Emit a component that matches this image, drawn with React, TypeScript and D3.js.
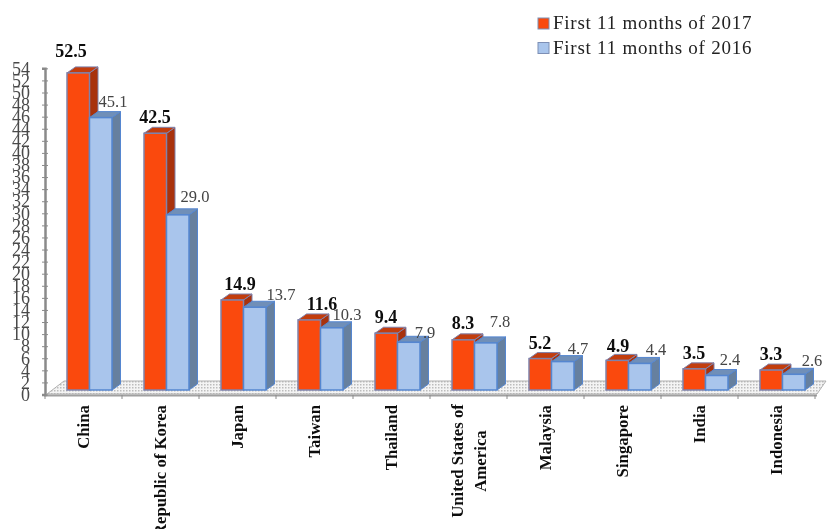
import { useEffect, useRef } from 'react';
import * as d3 from 'd3';

const categories = [
  'China',
  'Republic of Korea',
  'Japan',
  'Taiwan',
  'Thailand',
  'United States of America',
  'Malaysia',
  'Singapore',
  'India',
  'Indonesia',
];
const values2017 = [52.5, 42.5, 14.9, 11.6, 9.4, 8.3, 5.2, 4.9, 3.5, 3.3];
const values2016 = [45.1, 29.0, 13.7, 10.3, 7.9, 7.8, 4.7, 4.4, 2.4, 2.6];
const seriesNames = ['First 11 months of 2017', 'First 11 months of 2016'];
const yTicks = d3.range(0, 55, 2);

const WIDTH = 827;
const HEIGHT = 529;
const SERIF = '"Liberation Serif", serif';

export default function App() {
  const ref = useRef<SVGSVGElement>(null);

  useEffect(() => {
    if (!ref.current) return;
    const svg = d3.select(ref.current);
    svg.selectAll('*').remove();

    const defs = svg.append('defs');
    defs
      .append('filter')
      .attr('id', 'soft')
      .append('feGaussianBlur')
      .attr('stdDeviation', 0.45);
    const dots = defs
      .append('pattern')
      .attr('id', 'floorDots')
      .attr('width', 3)
      .attr('height', 3)
      .attr('patternUnits', 'userSpaceOnUse');
    dots.append('rect').attr('width', 3).attr('height', 3).attr('fill', '#f4f4f4');
    dots.append('rect').attr('width', 1.5).attr('height', 1.5).attr('fill', '#bcbcbc');

    const root = svg.append('g').attr('filter', 'url(#soft)');

    const depthX = 8.5;
    const depthY = 6;
    const baseY = 390;
    const pxPerUnit = 6.04;

    const x = d3.scaleBand<string>().domain(categories).range([56, 826]);
    const xSeries = d3.scaleBand<string>().domain(seriesNames).range([11, 56]);
    const y = d3
      .scaleLinear()
      .domain([0, 54])
      .range([baseY, baseY - 54 * pxPerUnit]);

    // floor
    const floor = d3.line();
    root
      .append('path')
      .attr(
        'd',
        floor([
          [47, 394],
          [64, 381],
          [826, 381],
          [817, 394],
        ]) + 'Z',
      )
      .attr('fill', 'url(#floorDots)')
      .attr('stroke', '#b0b0b0')
      .attr('stroke-width', 1);
    root
      .append('line')
      .attr('x1', 44)
      .attr('x2', 817)
      .attr('y1', 395.5)
      .attr('y2', 395.5)
      .attr('stroke', '#a0a0a0')
      .attr('stroke-width', 2);

    // y axis sits in front of the bars' base, so it gets its own offset
    const yAxis = root
      .append('g')
      .attr('transform', 'translate(45,4.5)')
      .call(
        d3
          .axisLeft(y)
          .tickValues(yTicks)
          .tickSize(3)
          .tickPadding(12)
          .tickFormat(d3.format('d')),
      );
    yAxis.select('.domain').attr('stroke', '#8a8a8a').attr('stroke-width', 2.5);
    yAxis.selectAll('line').attr('x1', 3).attr('x2', -3).attr('stroke', '#8a8a8a');
    yAxis
      .selectAll('text')
      .attr('font-family', SERIF)
      .attr('font-size', 18)
      .attr('fill', '#4a4a4a');

    // x ticks between the categories
    root
      .append('g')
      .selectAll('line')
      .data(d3.range(categories.length + 1))
      .join('line')
      .attr('x1', (i) => x.range()[0] - 11 + i * x.step())
      .attr('x2', (i) => x.range()[0] - 11 + i * x.step())
      .attr('y1', 395)
      .attr('y2', 399)
      .attr('stroke', '#8a8a8a');

    const barGroups = [
      {
        name: seriesNames[0],
        values: values2017,
        front: '#fa4a08',
        top: '#c23c10',
        side: '#a8320c',
        edge: '#7f82ac',
      },
      {
        name: seriesNames[1],
        values: values2016,
        front: '#a9c5ec',
        top: '#6f8fb8',
        side: '#66809f',
        edge: '#5586d0',
      },
    ];

    barGroups.forEach((s) => {
      const w = xSeries.bandwidth();
      const g = root
        .append('g')
        .selectAll('g')
        .data(categories)
        .join('g')
        .attr('transform', (d) => `translate(${x(d)! + xSeries(s.name)!},0)`);

      g.append('path')
        .attr('d', (_, i) => {
          const t = y(s.values[i]);
          return `M${w},${t}L${w + depthX},${t - depthY}L${w + depthX},${baseY - depthY}L${w},${baseY}Z`;
        })
        .attr('fill', s.side)
        .attr('stroke', s.edge)
        .attr('stroke-width', 1);
      g.append('path')
        .attr('d', (_, i) => {
          const t = y(s.values[i]);
          return `M0,${t}L${depthX},${t - depthY}L${w + depthX},${t - depthY}L${w},${t}Z`;
        })
        .attr('fill', s.top)
        .attr('stroke', s.edge)
        .attr('stroke-width', 1);
      g.append('rect')
        .attr('x', 0)
        .attr('width', w)
        .attr('y', (_, i) => y(s.values[i]))
        .attr('height', (_, i) => baseY - y(s.values[i]))
        .attr('fill', s.front)
        .attr('stroke', s.edge)
        .attr('stroke-width', 1.5);
    });

    // hand-placed labels in the source, so these are nudges off the bar top
    const redDx = [15, 22, 30, 35, 22, 22, 22, 23, 22, 22];
    const redDy = [16, 10, 10, 10, 10, 11, 10, 8, 10, 10];
    const blueDx = [57, 62, 71, 60, 61, 59, 60, 61, 58, 63];
    const blueDy = [11, 13, 7, 8, 4, 16, 8, 8, 11, 8];

    root
      .append('g')
      .selectAll('text')
      .data(categories)
      .join('text')
      .attr('x', (d, i) => x(d)! + redDx[i])
      .attr('y', (_, i) => y(values2017[i]) - redDy[i])
      .attr('text-anchor', 'middle')
      .attr('font-family', SERIF)
      .attr('font-size', 18)
      .attr('font-weight', 'bold')
      .attr('fill', '#111')
      .text((_, i) => values2017[i].toFixed(1));

    root
      .append('g')
      .selectAll('text')
      .data(categories)
      .join('text')
      .attr('x', (d, i) => x(d)! + blueDx[i])
      .attr('y', (_, i) => y(values2016[i]) - blueDy[i])
      .attr('text-anchor', 'middle')
      .attr('font-family', SERIF)
      .attr('font-size', 16.5)
      .attr('fill', '#444')
      .text((_, i) => values2016[i].toFixed(1));

    // category labels, rotated
    const catLabels = root
      .append('g')
      .selectAll('text')
      .data(categories)
      .join('text')
      .attr('transform', (d) => `translate(${x(d)! + 33},405) rotate(-90)`)
      .attr('text-anchor', 'end')
      .attr('font-family', SERIF)
      .attr('font-size', 16.8)
      .attr('font-weight', 'bold')
      .attr('fill', '#111');
    catLabels.each(function (d) {
      const t = d3.select(this);
      if (d === 'United States of America') {
        t.attr('text-anchor', 'middle');
        t.append('tspan').attr('x', -56).attr('dy', -11).text('United States of');
        t.append('tspan').attr('x', -56).attr('dy', 23).text('America');
      } else {
        t.text(d);
      }
    });

    // legend
    const legend = root
      .append('g')
      .selectAll('g')
      .data(seriesNames)
      .join('g')
      .attr('transform', (_, i) => `translate(538,${24 + i * 24.5})`);
    legend
      .append('rect')
      .attr('x', 0)
      .attr('y', -6)
      .attr('width', 11)
      .attr('height', 11)
      .attr('fill', (_, i) => barGroups[i].front)
      .attr('stroke', '#7d8fb5');
    legend
      .append('text')
      .attr('x', 15)
      .attr('y', 5)
      .attr('font-family', SERIF)
      .attr('font-size', 19)
      .attr('letter-spacing', 0.75)
      .attr('fill', '#222')
      .text((d) => d);
  }, []);

  return (
    <svg
      ref={ref}
      width={WIDTH}
      height={HEIGHT}
      style={{ position: 'absolute', left: 0, top: 0, background: '#fff' }}
    />
  );
}
